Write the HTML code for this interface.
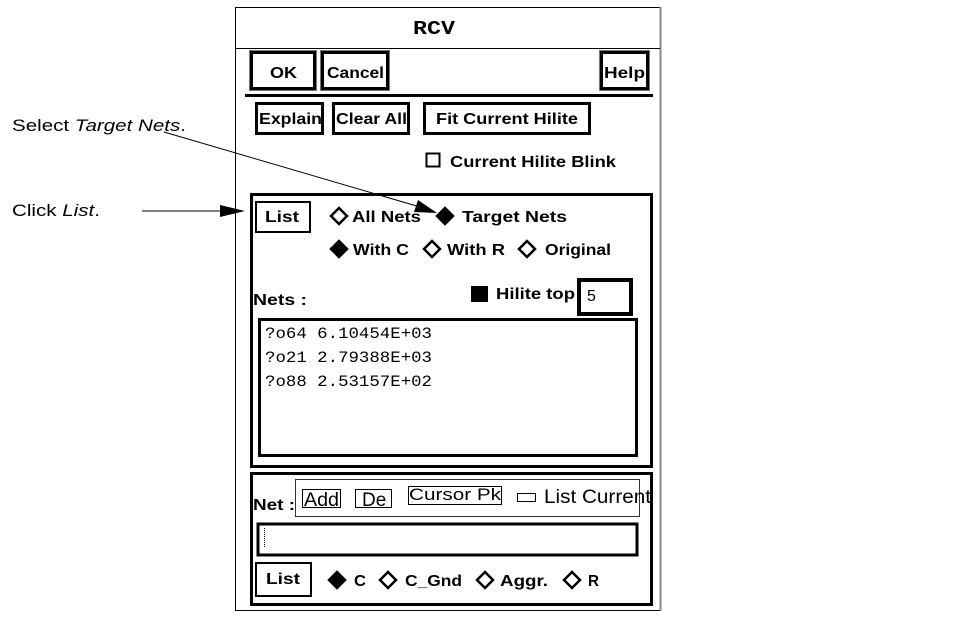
<!DOCTYPE html>
<html><head><meta charset="utf-8"><style>
html,body{margin:0;padding:0;background:#fff;width:962px;height:623px;overflow:hidden}
svg text{font-family:"Liberation Sans",sans-serif;font-weight:bold;font-size:16px;fill:#000}
svg text.n{font-weight:normal}
svg text.m{font-family:"Liberation Mono",monospace;font-weight:normal;font-size:16px}
</style></head><body>
<svg width="962" height="623" viewBox="0 0 962 623" xmlns="http://www.w3.org/2000/svg">
<rect x="235.5" y="7.5" width="425" height="603" fill="#fff" stroke="#000" stroke-width="1"/>
<line x1="660.5" y1="7" x2="660.5" y2="611" stroke="#888" stroke-width="2"/>
<line x1="235" y1="48.5" x2="660" y2="48.5" stroke="#000"/>
<text x="413" y="34" textLength="42" lengthAdjust="spacingAndGlyphs" style="font-family:'Liberation Mono',monospace;font-size:19px;font-weight:bold">RCV</text>
<g fill="#fff" stroke="#000" stroke-width="3">
<rect x="251.5" y="52.5" width="63" height="36"/>
<rect x="322.5" y="52.5" width="65" height="36"/>
<rect x="601.5" y="52.5" width="46" height="36"/>
</g>
<g fill="none" stroke="#777" stroke-width="1">
<rect x="249.5" y="50.5" width="67" height="40"/>
<rect x="320.5" y="50.5" width="69" height="40"/>
<rect x="599.5" y="50.5" width="50" height="40"/>
</g>
<text x="270" y="78" textLength="27" lengthAdjust="spacingAndGlyphs">OK</text>
<text x="327" y="78" textLength="57" lengthAdjust="spacingAndGlyphs">Cancel</text>
<text x="604" y="78" textLength="41" lengthAdjust="spacingAndGlyphs">Help</text>
<line x1="245" y1="95.5" x2="653" y2="95.5" stroke="#000" stroke-width="3"/>
<g fill="#fff" stroke="#000" stroke-width="3">
<rect x="256.5" y="103.5" width="66" height="30"/>
<rect x="333.5" y="103.5" width="75" height="30"/>
<rect x="424.5" y="103.5" width="165" height="30"/>
</g>
<text x="259" y="124" textLength="63" lengthAdjust="spacingAndGlyphs">Explain</text>
<text x="336" y="124" textLength="71" lengthAdjust="spacingAndGlyphs">Clear All</text>
<text x="436" y="124" textLength="142" lengthAdjust="spacingAndGlyphs">Fit Current Hilite</text>
<rect x="426.5" y="153.5" width="13" height="13" fill="#fff" stroke="#000" stroke-width="2"/>
<text x="450" y="167" textLength="166" lengthAdjust="spacingAndGlyphs">Current Hilite Blink</text>
<rect x="251.5" y="194.5" width="400" height="272" fill="none" stroke="#000" stroke-width="3"/>
<rect x="256" y="202" width="54" height="30" fill="#fff" stroke="#000" stroke-width="2"/>
<text x="265" y="222" textLength="34" lengthAdjust="spacingAndGlyphs">List</text>
<g stroke="#000" stroke-width="2.5">
<polygon points="339,208 347,216 339,224 331,216" fill="#fff"/>
<polygon points="445,208 453,216 445,224 437,216" fill="#000"/>
<polygon points="339,241 347,249 339,257 331,249" fill="#000"/>
<polygon points="432,241 440,249 432,257 424,249" fill="#fff"/>
<polygon points="527,241 535,249 527,257 519,249" fill="#fff"/>
</g>
<text x="352" y="222" textLength="69" lengthAdjust="spacingAndGlyphs">All Nets</text>
<text x="462" y="222" textLength="105" lengthAdjust="spacingAndGlyphs">Target Nets</text>
<text x="353" y="255" textLength="56" lengthAdjust="spacingAndGlyphs">With C</text>
<text x="447" y="255" textLength="58" lengthAdjust="spacingAndGlyphs">With R</text>
<text x="545" y="255" textLength="66" lengthAdjust="spacingAndGlyphs">Original</text>
<text x="253" y="305" textLength="54" lengthAdjust="spacingAndGlyphs">Nets :</text>
<rect x="471" y="286" width="17" height="16" fill="#000"/>
<text x="496" y="299" textLength="79" lengthAdjust="spacingAndGlyphs">Hilite top</text>
<rect x="579" y="280" width="52" height="34" fill="#fff" stroke="#000" stroke-width="4"/>
<text x="587" y="301" class="n">5</text>
<rect x="259.5" y="319.5" width="377" height="136" fill="#fff" stroke="#000" stroke-width="3"/>
<text x="265" y="338" class="m" textLength="167" lengthAdjust="spacingAndGlyphs">?o64 6.10454E+03</text>
<text x="265" y="362" class="m" textLength="167" lengthAdjust="spacingAndGlyphs">?o21 2.79388E+03</text>
<text x="265" y="386" class="m" textLength="167" lengthAdjust="spacingAndGlyphs">?o88 2.53157E+02</text>
<rect x="251.5" y="473.5" width="400" height="131" fill="none" stroke="#000" stroke-width="3"/>
<text x="253" y="510" textLength="42" lengthAdjust="spacingAndGlyphs">Net :</text>
<rect x="295.5" y="479.5" width="344" height="37" fill="none" stroke="#333" stroke-width="1"/>
<g fill="none" stroke="#000" stroke-width="1">
<rect x="302.5" y="489.5" width="38" height="18"/>
<rect x="355.5" y="489.5" width="36" height="18"/>
<rect x="408.5" y="486.5" width="93" height="18"/>
<rect x="517.5" y="493.5" width="18" height="8"/>
</g>
<text x="304" y="506" class="n" style="font-size:19px" textLength="35" lengthAdjust="spacingAndGlyphs">Add</text>
<text x="362" y="506" class="n" style="font-size:19px">De</text>
<text x="409" y="500" class="n" style="font-size:17px" textLength="92" lengthAdjust="spacingAndGlyphs">Cursor Pk</text>
<text x="544" y="503" class="n" style="font-size:19px" textLength="107" lengthAdjust="spacingAndGlyphs">List Current</text>
<rect x="258" y="524" width="379" height="31" fill="#fff" stroke="#000" stroke-width="3"/>
<line x1="264.5" y1="528" x2="264.5" y2="548" stroke="#000" stroke-dasharray="1,1"/>
<rect x="256" y="563" width="55" height="33" fill="#fff" stroke="#000" stroke-width="2"/>
<text x="266" y="584" textLength="34" lengthAdjust="spacingAndGlyphs">List</text>
<g stroke="#000" stroke-width="2.5">
<polygon points="337,572 345,580 337,588 329,580" fill="#000"/>
<polygon points="388,572 396,580 388,588 380,580" fill="#fff"/>
<polygon points="485,572 493,580 485,588 477,580" fill="#fff"/>
<polygon points="572,572 580,580 572,588 564,580" fill="#fff"/>
</g>
<text x="354" y="586" textLength="12" lengthAdjust="spacingAndGlyphs">C</text>
<text x="405" y="586" textLength="57" lengthAdjust="spacingAndGlyphs">C_Gnd</text>
<text x="500" y="586" textLength="48" lengthAdjust="spacingAndGlyphs">Aggr.</text>
<text x="588" y="586" textLength="11" lengthAdjust="spacingAndGlyphs">R</text>
<text x="12" y="131" class="n" style="font-size:17px" textLength="174" lengthAdjust="spacingAndGlyphs">Select <tspan font-style="italic">Target Nets</tspan>.</text>
<text x="12" y="216" class="n" style="font-size:17px" textLength="88" lengthAdjust="spacingAndGlyphs">Click <tspan font-style="italic">List</tspan>.</text>
<line x1="164" y1="132" x2="420" y2="207" stroke="#000" stroke-width="1"/>
<polygon points="437,213 414,212 418,200" fill="#000"/>
<line x1="142" y1="211" x2="222" y2="211" stroke="#000" stroke-width="1"/>
<polygon points="245,211 220,205 220,217" fill="#000"/>
</svg>
</body></html>
